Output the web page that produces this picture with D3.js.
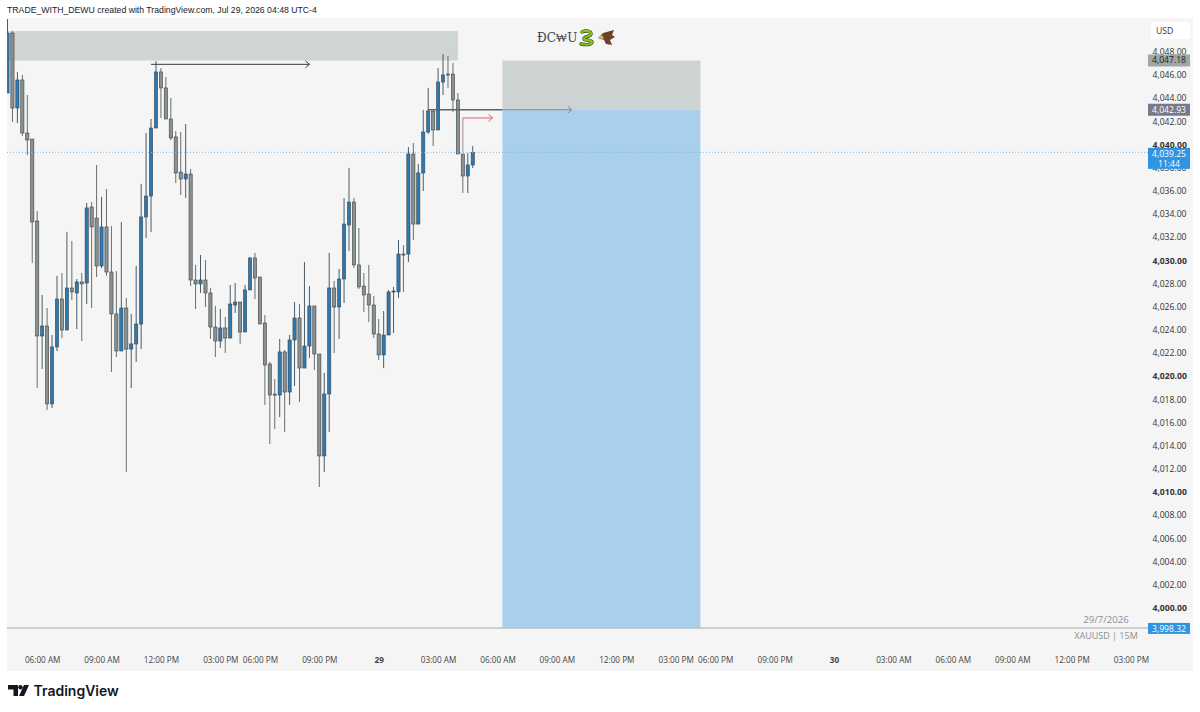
<!DOCTYPE html>
<html>
<head>
<meta charset="utf-8">
<title>XAUUSD 15M</title>
<script src="https://cdnjs.cloudflare.com/ajax/libs/d3/7.8.5/d3.min.js"></script>
<style>
html,body{margin:0;padding:0;background:#fff;}
svg{display:block;}
text{font-family:"Open Sans","Noto Sans",sans-serif;}
</style>
</head>
<body>
<svg id="chart" width="1200" height="712"></svg>
<script>
// 15 minute bars
var opens=[4044.37,4049.55,4043.08,4045.50,4040.92,4040.40,4033.32,4023.40,4024.26,4017.53,4022.45,4026.59,4023.91,4027.54,4027.11,4028.06,4027.97,4034.53,4033.58,4029.44,4032.81,4028.92,4025.30,4022.10,4025.81,4022.27,4022.71,4024.43,4033.67,4035.48,4041.35,4046.19,4044.81,4042.13,4040.58,4037.55,4036.95,4037.38,4028.23,4027.89,4028.23,4027.11,4024.17,4022.96,4024.09,4023.22,4026.07,4026.33,4023.74,4027.37,4030.13,4028.49,4024.52,4020.98,4018.38,4018.30,4022.02,4018.56,4023.05,4024.95,4020.63,4022.53,4025.99,4021.84,4013.04,4018.39,4027.54,4025.90,4028.32,4032.98,4034.96,4029.53,4027.71,4027.02,4026.07,4023.57,4021.76,4023.48,4027.20,4027.20,4030.47,4030.47,4039.11,4033.06,4037.47,4041.01,4042.82,4041.18,4045.32,4046.01,4046.01,4043.77,4039.11,4037.21,4038.16];
var highs=[4050.76,4049.73,4046.19,4045.93,4044.20,4040.40,4034.19,4026.94,4025.81,4023.48,4028.58,4028.84,4032.38,4031.60,4028.32,4028.84,4034.88,4034.96,4038.16,4035.40,4036.09,4032.89,4029.01,4033.24,4026.68,4025.30,4029.44,4036.52,4040.92,4042.13,4047.14,4046.53,4045.76,4043.94,4041.09,4041.01,4041.70,4037.81,4029.53,4030.39,4029.96,4027.54,4025.99,4025.73,4025.04,4027.80,4027.97,4026.33,4027.80,4030.22,4030.56,4028.49,4025.21,4021.15,4019.68,4023.14,4022.19,4023.48,4026.33,4026.16,4029.78,4027.71,4025.99,4021.84,4020.20,4030.56,4028.15,4029.18,4035.31,4037.90,4035.31,4032.72,4028.84,4029.53,4026.85,4024.86,4025.55,4027.37,4027.63,4031.68,4031.25,4039.71,4040.06,4038.25,4042.91,4044.81,4042.82,4046.53,4047.74,4047.57,4046.96,4044.37,4039.11,4039.19,4039.80];
var lows=[4044.37,4041.87,4041.78,4040.66,4039.02,4029.70,4018.90,4020.55,4017.01,4017.18,4022.10,4023.22,4023.91,4026.50,4023.99,4022.96,4026.16,4025.81,4028.49,4029.27,4028.58,4020.29,4021.58,4022.10,4011.66,4018.90,4021.15,4022.27,4031.86,4032.38,4041.35,4042.22,4042.13,4040.32,4036.60,4035.57,4035.31,4027.71,4025.73,4027.11,4025.90,4023.14,4021.58,4022.36,4021.93,4023.22,4025.38,4022.71,4023.74,4027.37,4026.59,4024.43,4017.44,4014.07,4015.37,4016.40,4015.11,4017.44,4019.08,4017.70,4020.63,4021.50,4020.46,4010.36,4011.66,4015.11,4021.93,4023.14,4026.25,4030.73,4029.27,4027.45,4025.47,4024.60,4023.22,4021.32,4020.63,4023.48,4023.65,4026.68,4027.20,4029.78,4031.68,4033.06,4035.91,4040.84,4039.80,4041.18,4044.20,4044.81,4042.73,4039.11,4035.74,4035.74,4037.90];
var closes=[4049.55,4043.08,4045.50,4040.92,4040.32,4033.24,4023.40,4024.26,4017.53,4022.45,4026.59,4023.91,4027.54,4027.20,4028.06,4027.89,4034.45,4032.81,4029.44,4032.81,4028.92,4025.30,4022.10,4025.81,4022.27,4022.71,4024.43,4033.67,4035.48,4041.35,4046.19,4044.81,4042.13,4040.49,4037.47,4036.95,4037.38,4028.23,4027.89,4028.23,4027.11,4024.17,4022.96,4024.09,4023.22,4026.16,4026.33,4023.74,4027.37,4030.13,4028.40,4024.43,4020.89,4018.30,4018.30,4022.02,4018.56,4023.05,4024.95,4020.63,4022.53,4025.99,4021.84,4013.04,4018.39,4027.54,4025.90,4028.32,4033.06,4034.96,4029.53,4027.63,4026.94,4026.07,4023.57,4021.76,4023.48,4027.20,4027.28,4030.47,4030.39,4039.11,4033.06,4037.47,4041.01,4042.82,4041.18,4045.32,4045.93,4045.93,4043.77,4039.11,4037.21,4038.16,4039.25];

var priceTicks=d3.range(4000,4049,2);
var timeTickBars=[7,19,31,43,51,63,75,87,99,111,123,135,143,155,167,179,191,203,215,227];
var timeTickLabels=["06:00 AM","09:00 AM","12:00 PM","03:00 PM","06:00 PM","09:00 PM","29","03:00 AM","06:00 AM","09:00 AM","12:00 PM","03:00 PM","06:00 PM","09:00 PM","30","03:00 AM","06:00 AM","09:00 AM","12:00 PM","03:00 PM"];

var lastPrice=4039.25, askLine=4042.93, zoneTop=4047.18, zoneFloor=3998.15;
var leftZoneTop=4049.72, blackLevel=4046.85, redLevel=4042.22;

var svg=d3.select("#chart");
var x=d3.scaleLinear().domain([0,227]).range([7.5,1131]);
var y=d3.scaleLinear().domain([4000,4048]).range([607,51]);

var bars=d3.range(opens.length).map(function(i){
    return {i:i,o:opens[i],h:highs[i],l:lows[i],c:closes[i]};
});

// panel
svg.append("rect").attr("x",7).attr("y",18).attr("width",1186).attr("height",653).attr("fill","#f5f5f5");
svg.append("clipPath").attr("id","pane").append("rect").attr("x",7).attr("y",18).attr("width",1141).attr("height",610);

var pane=svg.append("g").attr("clip-path","url(#pane)");

// supply zone on the left, then the short position box
pane.append("rect").attr("x",7).attr("y",y(leftZoneTop)).attr("width",x(91)-7).attr("height",y(zoneTop)-y(leftZoneTop)).attr("fill","#cfd4d4");
var boxX0=x(100), boxX1=x(140);
pane.append("rect").attr("x",boxX0).attr("y",y(zoneTop)).attr("width",boxX1-boxX0).attr("height",y(askLine)-y(zoneTop)).attr("fill","#cdd2d2");
pane.append("rect").attr("x",boxX0).attr("y",y(askLine)).attr("width",boxX1-boxX0).attr("height",y(zoneFloor)-y(askLine)).attr("fill","#a8d0ec");

// last price line
svg.append("line").attr("x1",7).attr("x2",1148).attr("y1",y(lastPrice)).attr("y2",y(lastPrice))
   .attr("stroke","#7db6e6").attr("stroke-width",1).attr("stroke-dasharray","1,2");

// candles
var candle=pane.selectAll(".candle").data(bars).enter().append("g").attr("class","candle");
candle.append("line")
      .attr("x1",function(d){return x(d.i);})
      .attr("x2",function(d){return x(d.i);})
      .attr("y1",function(d){return y(d.h);})
      .attr("y2",function(d){return y(d.l);})
      .attr("stroke",function(d){return d.c>=d.o?"#4c5a66":"#6a6e6e";})
      .attr("stroke-width",1);
candle.append("rect")
      .attr("x",function(d){return x(d.i)-1.6;})
      .attr("width",3.2)
      .attr("y",function(d){return y(Math.max(d.o,d.c));})
      .attr("height",function(d){return Math.max(1,Math.abs(y(d.o)-y(d.c)));})
      .attr("fill",function(d){return d.c>=d.o?"#2c7ab4":"#8a9191";})
      .attr("stroke","#3c4348")
      .attr("stroke-width",0.6);

// arrows
function arrow(x0,x1,py,color,w){
    pane.append("line").attr("x1",x0).attr("x2",x1).attr("y1",py).attr("y2",py).attr("stroke",color).attr("stroke-width",w);
    pane.append("path").attr("d","M"+(x1-4)+","+(py-3.5)+"L"+x1+","+py+"L"+(x1-4)+","+(py+3.5))
        .attr("fill","none").attr("stroke",color).attr("stroke-width",1);
}
arrow(x(29),x(61),y(blackLevel),"#3a3a3a",1);
arrow(boxX0,x(114),y(askLine),"#7c8a96",1);
pane.append("line").attr("x1",x(85)).attr("x2",boxX0).attr("y1",y(askLine)).attr("y2",y(askLine)).attr("stroke","#5e6266").attr("stroke-width",1.3);
pane.append("line").attr("x1",x(92)).attr("x2",x(92)).attr("y1",y(redLevel)).attr("y2",y(lastPrice)).attr("stroke","#a8868c").attr("stroke-width",1);
arrow(x(92),x(98),y(redLevel),"#e0606c",1);

// bottom line
svg.append("line").attr("x1",7).attr("x2",1148).attr("y1",628).attr("y2",628).attr("stroke","#bcbfc0").attr("stroke-width",1.6);

// price axis
var yAxis=d3.axisRight(y).tickValues(priceTicks).tickSize(0).tickPadding(0)
    .tickFormat(function(d){return d3.format(",.2f")(d);});
var gy=svg.append("g").attr("transform","translate(1152.5,0.8)").call(yAxis);
gy.select(".domain").remove();
gy.selectAll("text").attr("font-size","8.6px").attr("fill","#333")
  .style("font-family",'"Open Sans",sans-serif')
  .attr("font-weight",function(d){return d%10==0?"700":"400";});

// time axis
var xAxis=d3.axisBottom(x).tickValues(timeTickBars).tickSize(0).tickPadding(0)
    .tickFormat(function(d,i){return timeTickLabels[i];});
var gx=svg.append("g").attr("transform","translate(0,657.5)").call(xAxis);
gx.select(".domain").remove();
gx.selectAll("text").attr("font-size","8.2px").attr("fill","#444")
  .style("font-family",'"Open Sans",sans-serif')
  .attr("font-weight",function(d,i){return timeTickLabels[i].length<3?"700":"400";});

// price tags
function tag(price,h,fill,color,lines){
    var top=y(price)-(lines.length>1?4.5:h/2);
    svg.append("rect").attr("x",1148).attr("y",top).attr("width",42).attr("height",h).attr("fill",fill);
    lines.forEach(function(t,k){
        svg.append("text").attr("x",1169).attr("y",top+8.8+k*10).attr("text-anchor","middle")
           .attr("font-size","8.6px").attr("fill",color).text(t);
    });
}
svg.append("rect").attr("x",1151).attr("y",22).attr("width",39).attr("height",17).attr("fill","#fff");
svg.append("text").attr("x",1156).attr("y",33.5).attr("font-size","8.6px").attr("fill","#333").text("USD");
tag(zoneTop,12,"#9ea8a8","#222",["4,047.18"]);
tag(askLine,12,"#77788a","#fff",["4,042.93"]);
tag(lastPrice,21,"#2f95e3","#fff",["4,039.25","11:44"]);
tag(zoneFloor,11,"#2f95e3","#fff",["3,998.32"]);

// texts
svg.append("text").attr("x",7).attr("y",13).attr("font-size","8.7px").attr("fill","#222")
   .style("font-family",'"Liberation Sans",sans-serif')
   .text("TRADE_WITH_DEWU created with TradingView.com, Jul 29, 2026 04:48 UTC-4");
svg.append("text").attr("x",1106).attr("y",622.5).attr("text-anchor","middle").attr("font-size","9.6px").attr("fill","#8a8f94").text("29/7/2026");
svg.append("text").attr("x",1106).attr("y",639).attr("text-anchor","middle").attr("font-size","9px").attr("fill","#8a8f94").text("XAUUSD | 15M");
svg.append("text").attr("x",537).attr("y",41.5).attr("font-size","12px").attr("fill","#444").style("font-family",'"DejaVu Serif",serif').text("ÐC₩U");

// snake and eagle stickers
svg.append("path").attr("d","M582,32 C586,30 591,31 591,34 C591,37 584,36 584,39 C584,41 591,39 592,42 C592,45 586,45 581,44")
   .attr("fill","none").attr("stroke","#33480a").attr("stroke-width",3.4).attr("stroke-linecap","round");
svg.append("path").attr("d","M582,32 C586,30 591,31 591,34 C591,37 584,36 584,39 C584,41 591,39 592,42 C592,45 586,45 581,44")
   .attr("fill","none").attr("stroke","#8cc21c").attr("stroke-width",2.2).attr("stroke-linecap","round");
svg.append("path").attr("d","M598,38 L603,33 L614,30 L612,35 L615,37 L610,40 L612,45 L606,44 L604,40 Z").attr("fill","#6e4226");
svg.append("path").attr("d","M598,38 L602,35 L604,39 Z").attr("fill","#e0c070");

// logo
var logo=svg.append("g").attr("fill","#131722");
logo.append("path").attr("d","M8,685H18V696H13.5V689.5H8Z");
logo.append("circle").attr("cx",20.5).attr("cy",687.2).attr("r",2.2);
logo.append("path").attr("d","M24,685H29L24,696H19Z");
logo.append("text").attr("x",33.5).attr("y",696).attr("font-size","14px").attr("font-weight","600").attr("fill","#131722")
    .style("font-family",'Inter,sans-serif').text("TradingView");
</script>
</body>
</html>
